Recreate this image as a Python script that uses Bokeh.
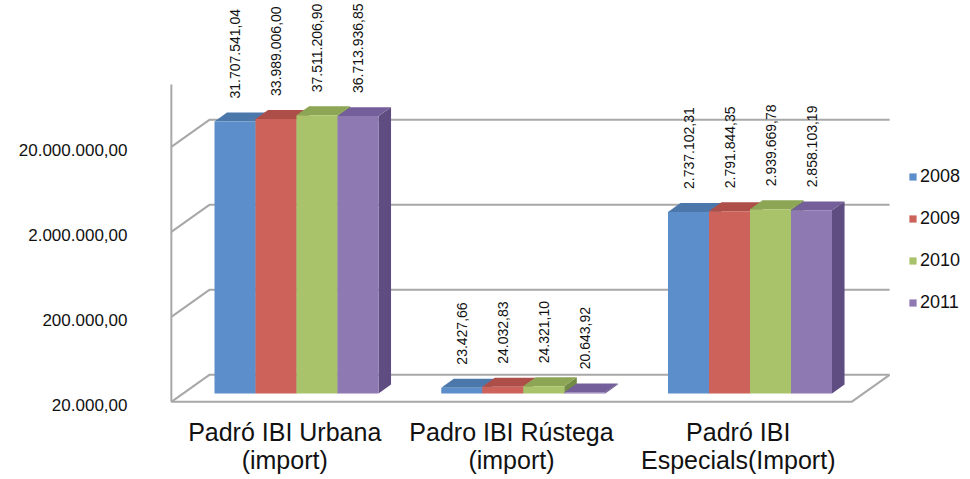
import math
from bokeh.plotting import figure
from bokeh.models import Range1d, LogAxis, LogScale, FixedTicker, Legend, LegendItem
from bokeh.core.properties import value
from bokeh.embed import file_html
from bokeh.resources import INLINE

# ---------------- data ----------------
CATEGORIES = ["Padró IBI Urbana\n(import)", "Padro IBI Rústega\n(import)", "Padró IBI\nEspecials(Import)"]
YEARS = ["2008", "2009", "2010", "2011"]
V2008 = [31707541.04, 23427.66, 2737102.31]
V2009 = [33989006.00, 24032.83, 2791844.35]
V2010 = [37511206.90, 24321.10, 2939669.78]
V2011 = [36713936.85, 20643.92, 2858103.19]
Y_TICKS = [20000, 200000, 2000000, 20000000]
Y_BASE = 20000
Y_AXIS_TOP = 1.08e8

SERIES = [V2008, V2009, V2010, V2011]

# ---------------- styles ----------------
FRONT = ["#5B8ECA", "#CD625A", "#A8C36A", "#8E79B2"]
TOP = ["#4C77AB", "#AD4F48", "#8CA655", "#745F9A"]
SIDE = ["#3F6391", "#8F3F3A", "#718A44", "#5F4C80"]
GRID = "#A8A8A8"
FONT = "Liberation Sans"
TXT = "#111111"

W, H = 970, 479
LEFT = 168
FW, FH = W - LEFT, H
UNIT_PX = 226.75      # px per category
DEC_PX = 85.0         # px per decade
X0_PX = 128.0         # frame px of category 0 centre (bar plane)
BASE_PX = 86.0        # frame px (from bottom) of Y_BASE in bar plane
DEPTH_X = 38.0 / UNIT_PX
DEPTH_Y = 27.0 / DEC_PX
D_FRONT, D_BACK, D_BAR = -0.31, 0.69, 0.33
BAR_W = 41.0 / UNIT_PX
GROUP_W = 4 * BAR_W
LABEL_GAP = 23.0 / DEC_PX


def fmt(v):
    s = f"{v:,.2f}"
    return s.replace(",", "X").replace(".", ",").replace("X", ".")


def yrange(shift_px):
    lo = math.log10(Y_BASE) - (BASE_PX - shift_px) / DEC_PX
    return Range1d(10 ** lo, 10 ** (lo + FH / DEC_PX))


def proj(x, y, d):
    return x + d * DEPTH_X, y * 10 ** (d * DEPTH_Y)


x0 = -X0_PX / UNIT_PX
p = figure(width=W, height=H, output_backend="svg", toolbar_location=None,
           x_range=Range1d(x0, x0 + FW / UNIT_PX), y_range=yrange(0),
           y_axis_type="log", x_axis_location=None, y_axis_location=None,
           extra_y_ranges={"axis": yrange(11.0)},
           extra_y_scales={"axis": LogScale()},
           min_border_left=LEFT, min_border_right=0, min_border_top=0, min_border_bottom=0)
p.outline_line_color = None
p.background_fill_color = "white"
p.border_fill_color = "white"
for g in p.grid:
    g.visible = False

# ---------------- walls / gridlines ----------------
xl, xr = -0.5, 2.5
xs, ys = [], []
for t in Y_TICKS:
    a = proj(xl, t, D_FRONT)
    b = proj(xl, t, D_BACK)
    c = proj(xr, t, D_BACK)
    xs.append([a[0], b[0], c[0]])
    ys.append([a[1], b[1], c[1]])
f1 = proj(xl, Y_BASE, D_FRONT)
f2 = proj(xr, Y_BASE, D_FRONT)
f3 = proj(xr, Y_BASE, D_BACK)
xs.append([f1[0], f2[0], f3[0]])
ys.append([f1[1], f2[1], f3[1]])
t1 = proj(xl, Y_AXIS_TOP, D_FRONT)
xs.append([f1[0], t1[0]])
ys.append([f1[1], t1[1]])
p.multi_line(xs, ys, line_color=GRID, line_width=2)

# ---------------- 3D bars ----------------
legend_items = []
for j, vals in enumerate(SERIES):
    xc = [i - GROUP_W / 2 + (j + 0.5) * BAR_W for i in range(len(vals))]
    sx, sy, tx, ty = [], [], [], []
    for x, v in zip(xc, vals):
        x_l, x_r = x - BAR_W / 2, x + BAR_W / 2
        bl = proj(x_r, Y_BASE, D_BAR)
        bt = proj(x_r, v, D_BAR)
        sx.append([x_r, x_r, bt[0], bl[0]])
        sy.append([Y_BASE, v, bt[1], bl[1]])
        tl = proj(x_l, v, D_BAR)
        tx.append([x_l, x_r, bt[0], tl[0]])
        ty.append([v, v, bt[1], tl[1]])
    p.patches(sx, sy, fill_color=SIDE[j], line_color=None)
    p.patches(tx, ty, fill_color=TOP[j], line_color=None)
    r = p.vbar(x=xc, width=BAR_W, bottom=Y_BASE, top=vals, fill_color=FRONT[j], line_color=None)
    legend_items.append(LegendItem(label=YEARS[j], renderers=[r]))
    p.text(x=xc, y=[v * 10 ** LABEL_GAP for v in vals], text=[fmt(v) for v in vals],
           angle=math.pi / 2, text_align="left", text_baseline="middle",
           text_font=value(FONT), text_font_size="14px", text_color=TXT)

# ---------------- category labels ----------------
cx = [proj(i, Y_BASE, D_FRONT)[0] for i in range(len(CATEGORIES))]
line1 = [c.split("\n")[0] for c in CATEGORIES]
line2 = [c.split("\n")[1] for c in CATEGORIES]
p.text(x=cx, y=[Y_BASE * 10 ** (-38 / DEC_PX)] * len(cx), text=line1,
       text_align="center", text_baseline="middle",
       text_font=value(FONT), text_font_size="25px", text_color=TXT)
p.text(x=cx, y=[Y_BASE * 10 ** (-66 / DEC_PX)] * len(cx), text=line2,
       text_align="center", text_baseline="middle",
       text_font=value(FONT), text_font_size="25px", text_color=TXT)

# ---------------- y axis ----------------
ax = LogAxis(y_range_name="axis", ticker=FixedTicker(ticks=Y_TICKS),
             major_label_overrides={t: fmt(t) for t in Y_TICKS})
ax.axis_line_color = None
ax.major_tick_line_color = None
ax.minor_tick_line_color = None
ax.major_tick_out = 0
ax.major_tick_in = 0
ax.major_label_standoff = 41
ax.major_label_text_font = FONT
ax.major_label_text_font_size = "17px"
ax.major_label_text_color = TXT
p.add_layout(ax, "left")

# ---------------- legend ----------------
legend = Legend(items=legend_items, location=(740, 165), orientation="vertical",
                glyph_width=9, glyph_height=9, label_standoff=3, spacing=18,
                padding=0, margin=0, border_line_color=None, background_fill_alpha=0,
                label_text_font=FONT, label_text_font_size="18px", label_height=24,
                label_text_color=TXT)
p.add_layout(legend)

open("out.html", "w").write(file_html(p, INLINE))
